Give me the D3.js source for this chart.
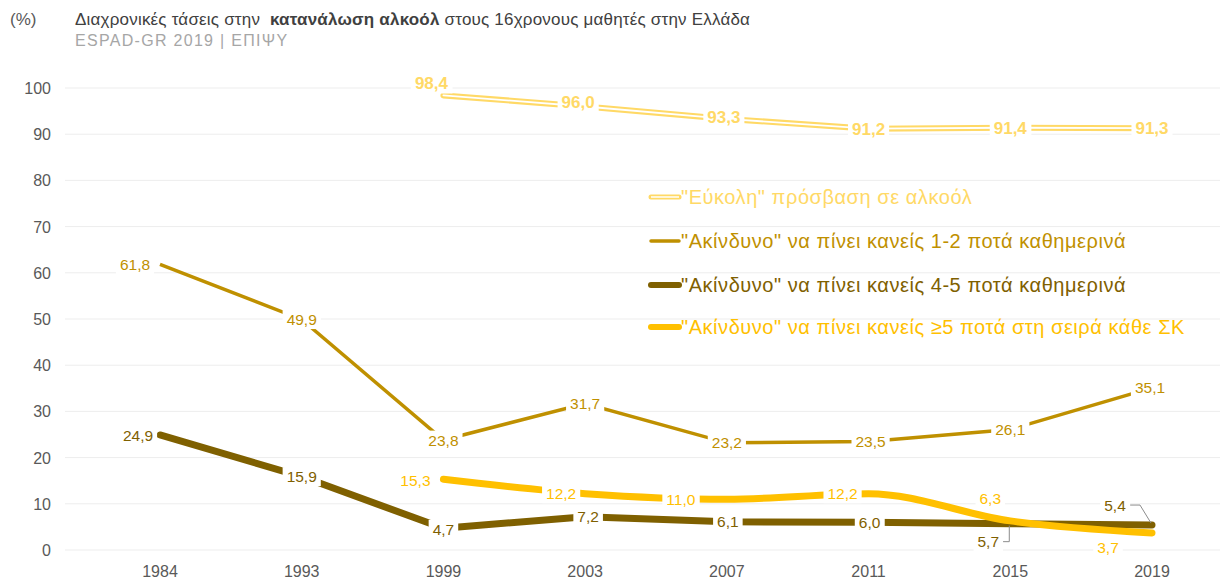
<!DOCTYPE html>
<html>
<head>
<meta charset="utf-8">
<script src="https://cdn.jsdelivr.net/npm/d3@7"></script>
<style>
  body { margin: 0; background: #fff; }
  svg { display: block; font-family: "Liberation Sans", Arial, sans-serif; }
</style>
</head>
<body>
<svg id="chart"></svg>
<script>
// data
var years = ["1984", "1993", "1999", "2003", "2007", "2011", "2015", "2019"];
var easyAccess = [null, null, 98.4, 96.0, 93.3, 91.2, 91.4, 91.3];
var daily12 = [61.8, 49.9, 23.8, 31.7, 23.2, 23.5, 26.1, 35.1];
var daily45 = [24.9, 15.9, 4.7, 7.2, 6.1, 6.0, 5.7, 5.4];
var weekend5 = [null, null, 15.3, 12.2, 11.0, 12.2, 6.3, 3.7];
var yTicks = [0, 10, 20, 30, 40, 50, 60, 70, 80, 90, 100];
var seriesNames = [
  "\"Εύκολη\" πρόσβαση σε αλκοόλ",
  "\"Ακίνδυνο\" να πίνει κανείς 1-2 ποτά καθημερινά",
  "\"Ακίνδυνο\" να πίνει κανείς 4-5 ποτά καθημερινά",
  "\"Ακίνδυνο\" να πίνει κανείς ≥5 ποτά στη σειρά κάθε ΣΚ"
];

// label placement (dx, dy from point) per series
var easyOff = [null, null, [-12, -13], [-7, -5], [-3, -2], [0, 0], [0, 0], [0, 0]];
var d12Off = [[-25, 0], [0, 0], [0, 0], [0, 0], [0, 0], [2, 0], [0, 0], [-2, 0]];
var d45Off = [[-22, 0], [0, 0], [0, 1], [3, 0], [1, 0], [1, 0], [-22, 18], [-37, -20]];
var w5Off = [null, null, [-28, 1], [-24, 0], [-46, 0], [-26, 0], [-20, -22], [-44, 15]];

var W = 1220, H = 579;
var svg = d3.select("#chart").attr("width", W).attr("height", H);

var x = d3.scalePoint().domain(years).range([160, 1152]);
var y = d3.scaleLinear().domain([0, 100]).range([550, 88]);

var fmt = function(v) { return d3.format(".1f")(v).replace(".", ","); };

// title
var title = svg.append("text").attr("x", 75).attr("y", 25)
    .style("font-size", "17px").style("letter-spacing", "0.2px")
    .attr("fill", "#404040").attr("xml:space", "preserve");
title.append("tspan").text("Διαχρονικές τάσεις στην  ");
title.append("tspan").style("font-weight", "bold").text("κατανάλωση αλκοόλ");
title.append("tspan").text(" στους 16χρονους μαθητές στην Ελλάδα");
svg.append("text").attr("x", 10).attr("y", 25).style("font-size", "17px")
    .attr("fill", "#595959").text("(%)");
svg.append("text").attr("x", 75).attr("y", 46).style("font-size", "16px")
    .style("letter-spacing", "1.3px")
    .attr("fill", "#a6a6a6").text("ESPAD-GR 2019 | ΕΠΙΨΥ");

// grid + y axis
svg.selectAll(".grid").data(yTicks).enter().append("line")
    .attr("x1", 65).attr("x2", W)
    .attr("y1", function(d) { return y(d); }).attr("y2", function(d) { return y(d); })
    .attr("stroke", "#ededed").attr("stroke-width", 1);
svg.selectAll(".ytick").data(yTicks).enter().append("text")
    .attr("x", 51).attr("y", function(d) { return y(d) + 6; })
    .attr("text-anchor", "end").style("font-size", "16px").attr("fill", "#595959")
    .text(function(d) { return d; });
svg.selectAll(".xtick").data(years).enter().append("text")
    .attr("x", function(d) { return x(d); }).attr("y", 577)
    .attr("text-anchor", "middle").style("font-size", "16px").attr("fill", "#595959")
    .text(function(d) { return d; });

function pts(vals) {
  return years.map(function(yr, i) { return {yr: yr, v: vals[i], i: i}; })
    .filter(function(p) { return p.v != null; });
}

var lineLin = d3.line().x(function(p) { return x(p.yr); }).y(function(p) { return y(p.v); });
var lineSmooth = d3.line().curve(d3.curveMonotoneX)
    .x(function(p) { return x(p.yr); }).y(function(p) { return y(p.v); });

// easy access: double line
svg.append("path").datum(pts(easyAccess)).attr("d", lineLin)
    .attr("fill", "none").attr("stroke", "#FFD966").attr("stroke-width", 6)
    .attr("stroke-linecap", "round");
svg.append("path").datum(pts(easyAccess)).attr("d", lineLin)
    .attr("fill", "none").attr("stroke", "#fff").attr("stroke-width", 1.8)
    .attr("stroke-linecap", "round");

svg.append("path").datum(pts(daily12)).attr("d", lineLin)
    .attr("fill", "none").attr("stroke", "#BF9000").attr("stroke-width", 3.5);
svg.append("path").datum(pts(daily45)).attr("d", lineLin)
    .attr("fill", "none").attr("stroke", "#7F6000").attr("stroke-width", 7)
    .attr("stroke-linecap", "round").attr("stroke-linejoin", "round");
svg.append("path").datum(pts(weekend5)).attr("d", lineSmooth)
    .attr("fill", "none").attr("stroke", "#FFC000").attr("stroke-width", 7)
    .attr("stroke-linecap", "round");

// leader lines
svg.append("polyline")
    .attr("points", [[x("2015") - 8, y(5.7) + 18], [x("2015") - 1, y(5.7) + 18], [x("2015") - 1, y(5.7) + 2]].join(" "))
    .attr("fill", "none").attr("stroke", "#8c8c8c").attr("stroke-width", 1);
svg.append("polyline")
    .attr("points", [[x("2019") - 22, y(5.4) - 20], [x("2019") - 12, y(5.4) - 20], [x("2019") - 1, y(5.4) - 2]].join(" "))
    .attr("fill", "none").attr("stroke", "#8c8c8c").attr("stroke-width", 1);

function labels(vals, offs, color, bold, size) {
  var g = svg.append("g");
  pts(vals).forEach(function(p) {
    var o = offs[p.i];
    var cx = x(p.yr) + o[0], cy = y(p.v) + o[1];
    var t = g.append("text").attr("x", cx).attr("y", cy + size * 0.36)
        .attr("text-anchor", "middle").style("font-size", size + "px")
        .style("font-weight", bold ? "bold" : "normal")
        .attr("fill", color).text(fmt(p.v));
    var bb = t.node().getBBox();
    g.insert("rect", "text").attr("x", bb.x - 4).attr("y", bb.y - 1)
        .attr("width", bb.width + 8).attr("height", bb.height + 2).attr("fill", "#fff");
  });
}
labels(easyAccess, easyOff, "#FFD966", true, 17);
labels(daily12, d12Off, "#BF9000", false, 15.5);
labels(daily45, d45Off, "#7F6000", false, 15.5);
labels(weekend5, w5Off, "#FFC000", false, 15.5);

// legend
var legColors = ["#FFD966", "#BF9000", "#7F6000", "#FFC000"];
var legY = [197, 241, 285, 327];
var leg = svg.append("g");
seriesNames.forEach(function(name, i) {
  var ly = legY[i];
  if (i === 0) {
    leg.append("line").attr("x1", 651).attr("x2", 679).attr("y1", ly).attr("y2", ly)
        .attr("stroke", legColors[i]).attr("stroke-width", 5).attr("stroke-linecap", "round");
    leg.append("line").attr("x1", 651).attr("x2", 679).attr("y1", ly).attr("y2", ly)
        .attr("stroke", "#fff").attr("stroke-width", 1.5);
  } else {
    leg.append("line").attr("x1", 651).attr("x2", 679).attr("y1", ly).attr("y2", ly)
        .attr("stroke", legColors[i]).attr("stroke-width", i === 1 ? 3.5 : 6)
        .attr("stroke-linecap", "round");
  }
  leg.append("text").attr("x", 681).attr("y", ly + 7)
      .style("font-size", "20px").style("letter-spacing", "0.55px")
      .attr("fill", legColors[i]).text(name);
});
</script>
</body>
</html>
